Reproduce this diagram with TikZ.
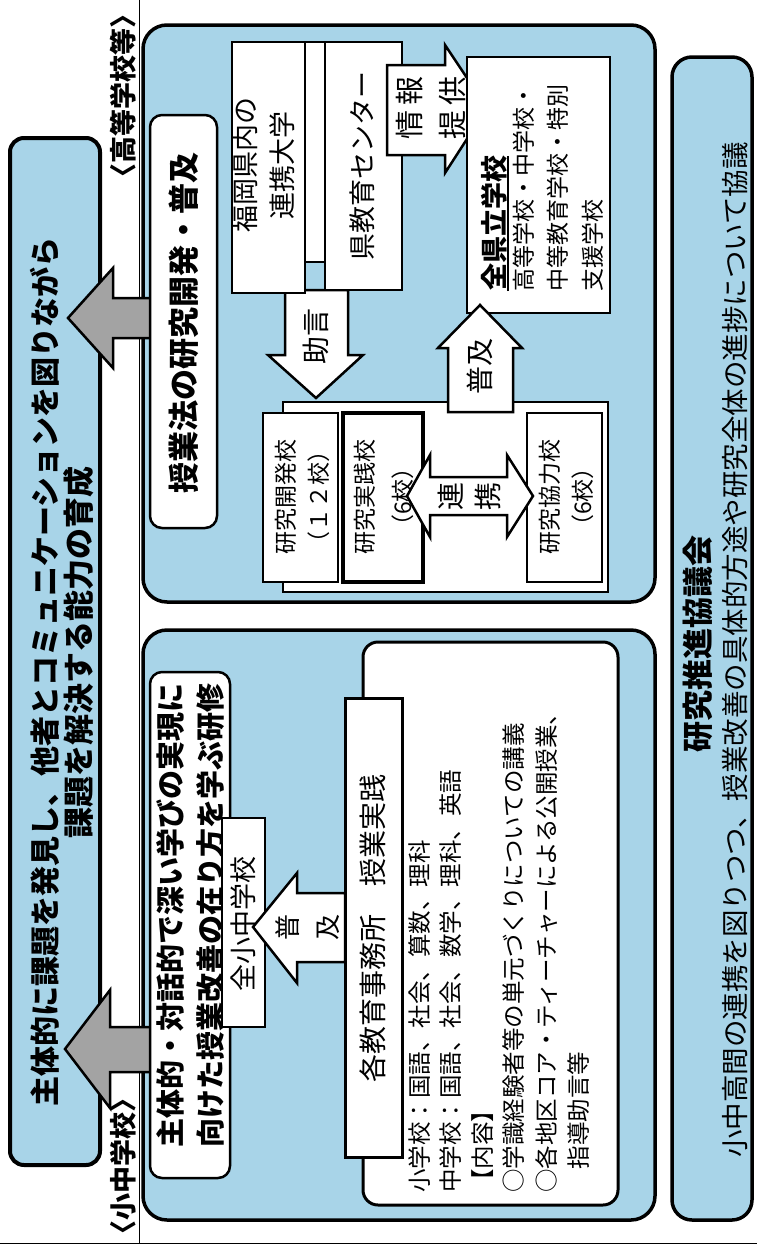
\documentclass[tikz,border=0pt]{standalone}
\usepackage{fontspec}
\setmainfont{Noto Sans CJK JP}
\newcommand\jfs[2]{\fontsize{#1pt}{#2pt}\selectfont}
\definecolor{bl}{RGB}{168,212,232}
\definecolor{gr}{RGB}{163,163,163}
\begin{document}
\begin{tikzpicture}[x=1pt,y=-1pt,
 grp/.style={draw=black, line width=3.5pt, fill=bl, rounded corners=24pt},
 wb/.style={draw=black, line width=2.5pt, fill=white},
 wbr/.style={wb, rounded corners=12pt},
 garrow/.style={draw=black, line width=2.5pt, fill=gr, line join=miter},
 warrow/.style={draw=black, line width=2.5pt, fill=white, line join=miter},
 t/.style={rotate=90, inner sep=0pt, align=center},
]
\useasboundingbox (0,0) rectangle (757,1250);
\fill[white] (0,0) rectangle (757,1250);
% page lines
\draw[line width=1pt] (0,1243) -- (757,1243);
\draw[line width=0.8pt] (139,0) -- (139,1243);
% banner
\draw[grp, rounded corners=14pt, line width=4pt] (10,138) rectangle (100,1165);
\node[t, font=\bfseries\jfs{30}{30}] (b1) at (45,672) {主体的に課題を発見し、他者とコミュニケーションを図りながら};
\node[t, font=\bfseries\jfs{31}{31}] (b2) at (79,652) {課題を解決する能力の育成};
% labels
\node[t, font=\bfseries\jfs{27}{27}] (lh) at (123,96) {〈高等学校等〉};
\node[t, font=\bfseries\jfs{27}{27}] (ls) at (123,1166) {〈小中学校〉};
% group boxes
\draw[grp] (143,25) rectangle (655,602);
\draw[grp] (143,630) rectangle (655,1220);
% gray arrows
\draw[garrow] (158,298) -- (113,298) -- (113,268) -- (68,318) -- (113,368) -- (113,338) -- (158,338) -- cycle;
\draw[garrow] (152,1027) -- (110,1027) -- (110,990) -- (65,1049) -- (110,1108) -- (110,1072) -- (152,1072) -- cycle;
% ---- right group ----
\draw[wbr] (150,115) rectangle (217,528);
\node[t, font=\bfseries\jfs{31}{31}] (jg) at (184,323) {授業法の研究開発・普及};
\draw[warrow] (285,290) -- (348,290) -- (348,355) -- (363,355) -- (316,398) -- (268,355) -- (285,355) -- cycle;
\node[t, font=\jfs{28}{28}] (jo) at (316,336) {助言};
\draw[wb] (300,42) rectangle (330,262);
\draw[wb] (232,42) rectangle (305,293);
\node[t, font=\jfs{27}{37}] (fk) at (264,165) {福岡県内の\\連携大学};
\draw[wb] (325,42) rectangle (402,290);
\node[t, font=\jfs{27}{27}] (kc) at (362,166) {県教育センター};
\draw[warrow] (387,65) -- (445,65) -- (445,45) -- (487,108) -- (445,173) -- (445,155) -- (387,155) -- cycle;
\node[t, font=\jfs{29}{43}] (jh) at (431,108) {情\hspace{5pt}報\\提\hspace{5pt}供};
\draw[wb] (467,57) rectangle (610,313);
\node[t, anchor=west, font=\bfseries\jfs{27}{27}] (zk) at (494,291) {全県立学校};
\draw[line width=1.5pt] ([xshift=1pt]zk.south west) -- ([xshift=1pt]zk.south east);
\node[t, anchor=west, font=\jfs{23}{23}] (z2) at (524,292) {高等学校・中学校・};
\node[t, anchor=west, font=\jfs{23}{23}] (z3) at (558,292) {中等教育学校・特別};
\node[t, anchor=west, font=\jfs{23}{23}] (z4) at (593,292) {支援学校};
% research stack
\draw[wb] (283,402) rectangle (608,592);
\draw[warrow] (448,412) -- (448,348) -- (438,348) -- (480,305) -- (522,348) -- (513,348) -- (513,412) -- cycle;
\node[t, font=\jfs{28}{28}] (fu1) at (480,366) {普及};
\draw[wb] (263,413) rectangle (338,582);
\node[t, font=\jfs{23}{33}] (k1) at (302,497) {研究開発校\\（１２校）};
\draw[wb, line width=3.5pt] (343,413) rectangle (423,582);
\node[t, font=\jfs{23}{38}] (k2) at (384,497) {研究実践校\\（6校）};
\draw[wb] (527,413) rectangle (602,582);
\node[t, font=\jfs{23}{33}] (k3) at (566,497) {研究協力校\\（6校）};
\draw[warrow] (407,496) -- (430,455) -- (430,477) -- (507,477) -- (507,455) -- (533,496) -- (507,537) -- (507,515) -- (430,515) -- (430,537) -- cycle;
\node[t, font=\jfs{28}{37}] (rk) at (469,496) {連\\携};
% ---- left group ----
\draw[wbr] (150,672) rectangle (230,1178);
\node[t, anchor=west, font=\bfseries\jfs{29}{29}] (ks1) at (170,1148) {主体的・対話的で深い学びの実現に};
\node[t, anchor=west, font=\bfseries\jfs{29}{29}] (ks2) at (211,1148) {向けた授業改善の在り方を学ぶ研修};
\draw[wb, rounded corners=15pt, line width=3pt] (363,642) rectangle (618,1205);
\draw[wb] (222,818) rectangle (265,1027);
\node[t, font=\jfs{27}{27}] (zs) at (243,924) {全小中学校};
\draw[warrow] (345,893) -- (297,893) -- (297,873) -- (253,927) -- (297,983) -- (297,962) -- (345,962) -- cycle;
\node[t, font=\jfs{26}{40}] (fu2) at (308,927) {普\\及};
\draw[wb, line width=3pt] (345,698) rectangle (402,1157);
\node[t, font=\jfs{28}{28}] (kj) at (373,928) {各教育事務所　授業実践};
\node[t, anchor=west, font=\jfs{23.5}{23.5}] (l1) at (420,1193) {小学校：国語、社会、算数、理科};
\node[t, anchor=west, font=\jfs{23.5}{23.5}] (l2) at (451,1193) {中学校：国語、社会、数学、理科、英語};
\node[t, anchor=west, font=\jfs{23.5}{23.5}] (l3) at (483,1193) {【内容】};
\node[t, anchor=west, font=\jfs{23.5}{23.5}] (l4) at (514,1193) {○学識経験者等の単元づくりについての講義};
\node[t, anchor=west, font=\jfs{23.5}{23.5}] (l5) at (547,1193) {○各地区コア・ティーチャーによる公開授業、};
\node[t, anchor=west, font=\jfs{23.5}{23.5}] (l6) at (579,1193) {　指導助言等};
% ---- council ----
\draw[grp, rounded corners=20pt] (672,57) rectangle (752,1220);
\node[t, font=\bfseries\jfs{31}{31}] (sk) at (698,644) {研究推進協議会};
\node[t, font=\jfs{27.5}{27.5}] (sk2) at (735,650) {小中高間の連携を図りつつ、授業改善の具体的方途や研究全体の進捗について協議};
\end{tikzpicture}
\end{document}
